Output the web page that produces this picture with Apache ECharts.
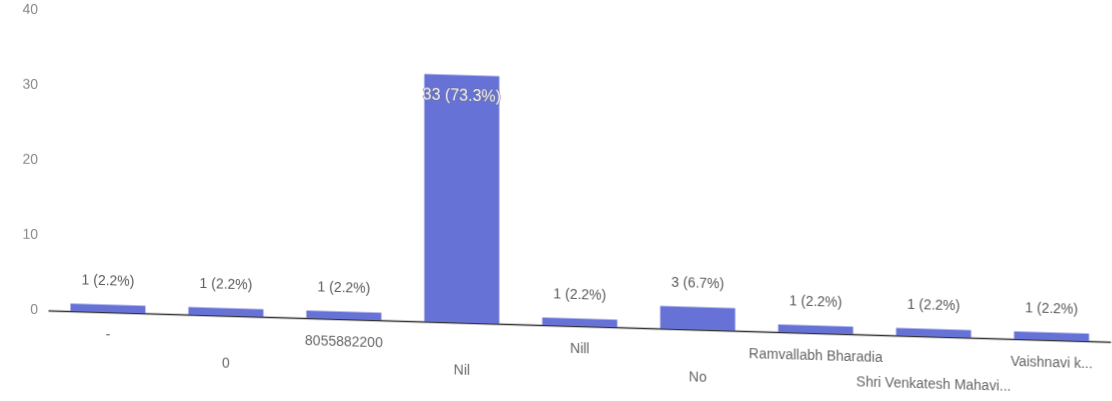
<!DOCTYPE html>
<html>
<head>
<meta charset="utf-8">
<script src="https://cdn.jsdelivr.net/npm/echarts@6/dist/echarts.min.js"></script>
<style>
html,body{margin:0;padding:0;background:#fff;overflow:hidden;}
#chart{width:1112px;height:401px;transform:skewY(1.69deg);transform-origin:0 0;}
</style>
</head>
<body>
<div id="chart"></div>
<script>
const categories = ['-', '0', '8055882200', 'Nil', 'Nill', 'No', 'Ramvallabh Bharadia', 'Shri Venkatesh Mahavi...', 'Vaishnavi k...'];
const counts = [1, 1, 1, 33, 1, 3, 1, 1, 1];
const totalResponses = 45;
const yTicks = [0, 10, 20, 30, 40];

const fmtPct = v => v + ' (' + (v / totalResponses * 100).toFixed(1) + '%)';
const FONT = '"Liberation Sans", Arial, sans-serif';

const chart = echarts.init(document.getElementById('chart'));
chart.setOption({
  animation: false,
  grid: { left: 49, right: 1, top: 9, bottom: 92 },
  xAxis: {
    type: 'category',
    data: categories,
    axisLine: { lineStyle: { color: '#333', width: 1.3 } },
    axisTick: { show: false },
    axisLabel: {
      interval: 0,
      color: '#666',
      fontFamily: FONT,
      fontSize: 14,
      margin: 11,
      lineHeight: 25,
      formatter: (v, i) => (i % 2 ? '\n' + v : v)
    }
  },
  yAxis: {
    type: 'value',
    min: yTicks[0],
    max: yTicks[yTicks.length - 1],
    interval: 10,
    axisLine: { show: false },
    axisTick: { show: false },
    splitLine: { show: false },
    axisLabel: { color: '#8a8a8a', fontFamily: FONT, fontSize: 14, margin: 11 }
  },
  series: [{
    type: 'bar',
    data: counts.map(v => {
      if (v === Math.max(...counts)) {
        return {
          value: v,
          label: {
            position: 'insideTop',
            distance: 13,
            fontSize: 16,
            color: '#f6f6ff',
            textBorderColor: '#6a6a78',
            textBorderWidth: 1
          }
        };
      }
      return v;
    }),
    barWidth: 75,
    itemStyle: { color: '#6672d6' },
    label: {
      show: true,
      position: 'top',
      distance: 16,
      color: '#5a5a5a',
      fontFamily: FONT,
      fontSize: 14,
      formatter: p => fmtPct(p.value)
    }
  }]
});
</script>
</body>
</html>
